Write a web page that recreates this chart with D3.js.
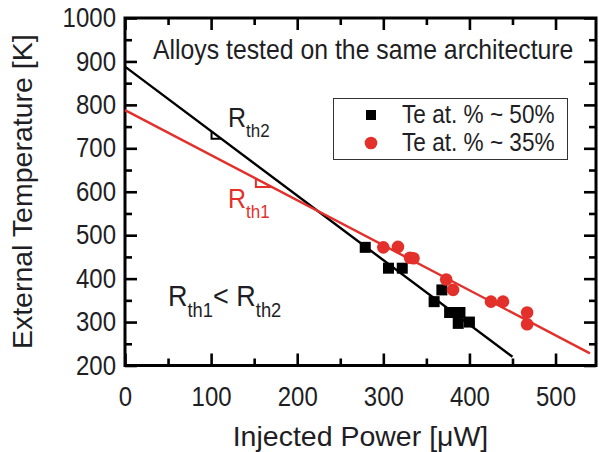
<!DOCTYPE html>
<html>
<head>
<meta charset="utf-8">
<script src="https://cdn.jsdelivr.net/npm/d3@7"></script>
<style>
  html, body { margin: 0; padding: 0; background: #fff; }
  svg { display: block; }
  text { font-family: "Liberation Sans", Arial, sans-serif; fill: #1e1e24; }
</style>
</head>
<body>
<svg id="chart" width="599" height="452"></svg>
<script>
// ---- data ----
const xMajorTicks = [0, 100, 200, 300, 400, 500];
const xMinorTicks = [50, 150, 250, 350, 450];
const yMajorTicks = [200, 300, 400, 500, 600, 700, 800, 900, 1000];
const yMinorTicks = [250, 350, 450, 550, 650, 750, 850, 950];
const xDomain = [0, 547];
const yDomain = [200, 1000];

const te50Power = [279, 306, 322, 368, 359, 377, 389, 387, 400];
const te50Temp  = [472, 424, 424, 374, 347, 322, 322, 297, 300];
const te35Power = [300, 317, 331, 335, 373, 381, 425, 439, 467, 467];
const te35Temp  = [472, 473, 448, 447, 398, 374, 347, 347, 322, 295];

const fitBlackPower = [0, 450];
const fitBlackTemp  = [888, 220];
const fitRedPower   = [0, 540];
const fitRedTemp    = [788, 228];

const slopeBlackPower = [100.5, 112];
const slopeRedPower   = [152, 170.5];

const legendLabels = ["Te at. % ~ 50%", "Te at. % ~ 35%"];
const titleText = "Alloys tested on the same architecture";
const xLabel = "Injected Power [\u03BCW]";
const yLabel = "External Temperature [K]";

const RED = "#e3302a";
const BLACK = "#000";
const TXT = "#1e1e24";
const S = 1.12; // vertical stretch of horizontal text, as in the reference

// ---- layout ----
const svg = d3.select("#chart");
const pLeft = 125, pRight = 596, pTop = 18, pBottom = 365.5;
const x = d3.scaleLinear().domain(xDomain).range([pLeft, pRight]);
const y = d3.scaleLinear().domain(yDomain).range([pBottom, pTop]);

function stretch(sel) {
  sel.each(function () {
    const t = d3.select(this);
    const tx = +(t.attr("x") || 0), ty = +(t.attr("y") || 0);
    t.attr("x", 0).attr("y", 0)
     .attr("transform", `translate(${tx},${ty}) scale(1,${S})`);
  });
}

function styleAxis(g) {
  g.select(".domain").remove();
  g.selectAll(".tick line").attr("stroke", "#000").attr("stroke-width", 2.6);
  g.selectAll(".tick text").attr("font-family", "Liberation Sans, Arial, sans-serif").attr("fill", TXT);
}

// bottom axis
svg.append("g").attr("transform", `translate(0,${pBottom})`)
  .call(d3.axisBottom(x).tickValues(xMajorTicks).tickSize(-12).tickPadding(21).tickFormat(d3.format("d")))
  .call(styleAxis)
  .call(g => g.selectAll(".tick text").attr("font-size", 24).call(stretch));
svg.append("g").attr("transform", `translate(0,${pBottom})`)
  .call(d3.axisBottom(x).tickValues(xMinorTicks).tickSize(-7).tickFormat(""))
  .call(styleAxis);
// top axis
svg.append("g").attr("transform", `translate(0,${pTop})`)
  .call(d3.axisTop(x).tickValues(xMajorTicks).tickSize(-12).tickFormat(""))
  .call(styleAxis);
svg.append("g").attr("transform", `translate(0,${pTop})`)
  .call(d3.axisTop(x).tickValues(xMinorTicks).tickSize(-7).tickFormat(""))
  .call(styleAxis);
// left axis
svg.append("g").attr("transform", `translate(${pLeft},0)`)
  .call(d3.axisLeft(y).tickValues(yMajorTicks).tickSize(-12).tickPadding(9).tickFormat(d3.format("d")))
  .call(styleAxis)
  .call(g => g.selectAll(".tick text").attr("font-size", 24).call(stretch));
svg.append("g").attr("transform", `translate(${pLeft},0)`)
  .call(d3.axisLeft(y).tickValues(yMinorTicks).tickSize(-7).tickFormat(""))
  .call(styleAxis);
// right axis
svg.append("g").attr("transform", `translate(${pRight},0)`)
  .call(d3.axisRight(y).tickValues(yMajorTicks).tickSize(-12).tickFormat(""))
  .call(styleAxis);
svg.append("g").attr("transform", `translate(${pRight},0)`)
  .call(d3.axisRight(y).tickValues(yMinorTicks).tickSize(-7).tickFormat(""))
  .call(styleAxis);

// frame
svg.append("rect")
  .attr("x", pLeft).attr("y", pTop)
  .attr("width", pRight - pLeft).attr("height", pBottom - pTop)
  .attr("fill", "none").attr("stroke", "#000").attr("stroke-width", 3);

// axis titles
svg.append("text")
  .attr("x", (pLeft + pRight) / 2).attr("y", 446)
  .attr("text-anchor", "middle").attr("font-size", 28.5)
  .text(xLabel);
svg.append("text")
  .attr("transform", `translate(32,${(pTop + pBottom) / 2}) rotate(-90)`)
  .attr("text-anchor", "middle").attr("font-size", 28.5)
  .text(yLabel);

// fit lines
const line = d3.line().x(d => x(d[0])).y(d => y(d[1]));
const blackFit = fitBlackPower.map((p, i) => [p, fitBlackTemp[i]]);
const redFit = fitRedPower.map((p, i) => [p, fitRedTemp[i]]);
svg.append("path").attr("d", line(blackFit)).attr("fill", "none").attr("stroke", BLACK).attr("stroke-width", 2.4);
svg.append("path").attr("d", line(redFit)).attr("fill", "none").attr("stroke", RED).attr("stroke-width", 2.4);

// slope triangles
function interp(fp, ft, p) {
  const t = (p - fp[0]) / (fp[1] - fp[0]);
  return ft[0] + t * (ft[1] - ft[0]);
}
function slopeMark(pw, fp, ft, color) {
  const pts = [
    [pw[0], interp(fp, ft, pw[0])],
    [pw[0], interp(fp, ft, pw[1])],
    [pw[1], interp(fp, ft, pw[1])]
  ];
  svg.append("path").attr("d", line(pts)).attr("fill", "none")
    .attr("stroke", color).attr("stroke-width", 2);
}
slopeMark(slopeBlackPower, fitBlackPower, fitBlackTemp, BLACK);
slopeMark(slopeRedPower, fitRedPower, fitRedTemp, RED);

// data points
svg.append("g").selectAll("rect")
  .data(te50Power.map((p, i) => [p, te50Temp[i]]))
  .join("rect")
  .attr("x", d => x(d[0]) - 5.5).attr("y", d => y(d[1]) - 5.5)
  .attr("width", 11).attr("height", 11).attr("fill", BLACK);
svg.append("g").selectAll("circle")
  .data(te35Power.map((p, i) => [p, te35Temp[i]]))
  .join("circle")
  .attr("cx", d => x(d[0])).attr("cy", d => y(d[1]))
  .attr("r", 6.3).attr("fill", RED);

// title
svg.append("text").attr("x", 153).attr("y", 59).attr("font-size", 24.8).text(titleText).call(stretch);

// legend
svg.append("rect").attr("x", 333.5).attr("y", 98.5).attr("width", 234).attr("height", 61)
  .attr("fill", "#fff").attr("stroke", "#333").attr("stroke-width", 1);
svg.append("rect").attr("x", 366).attr("y", 110).attr("width", 10).attr("height", 10).attr("fill", BLACK);
svg.append("circle").attr("cx", 371).attr("cy", 143).attr("r", 6.3).attr("fill", RED);
svg.append("text").attr("x", 402).attr("y", 123).attr("font-size", 22.6).text(legendLabels[0]).call(stretch);
svg.append("text").attr("x", 402).attr("y", 151).attr("font-size", 22.6).text(legendLabels[1]).call(stretch);

// R labels
function rLabel(xp, yp, parts, color, fs) {
  const t = svg.append("text").attr("x", xp).attr("y", yp).attr("font-size", fs)
    .style("fill", color);
  parts.forEach(p => {
    if (p.sub) {
      t.append("tspan").attr("dy", fs * 0.36).attr("font-size", fs * 0.68).text(p.s);
    } else {
      t.append("tspan").attr("dy", p.after ? -fs * 0.36 : 0).text(p.s);
    }
  });
  t.call(stretch);
}
rLabel(228, 127, [{s: "R"}, {s: "th2", sub: true}], TXT, 25);
rLabel(228, 208, [{s: "R"}, {s: "th1", sub: true}], RED, 25);
rLabel(168, 306, [{s: "R"}, {s: "th1", sub: true}, {s: "< R", after: true}, {s: "th2", sub: true}], TXT, 27);
</script>
</body>
</html>
